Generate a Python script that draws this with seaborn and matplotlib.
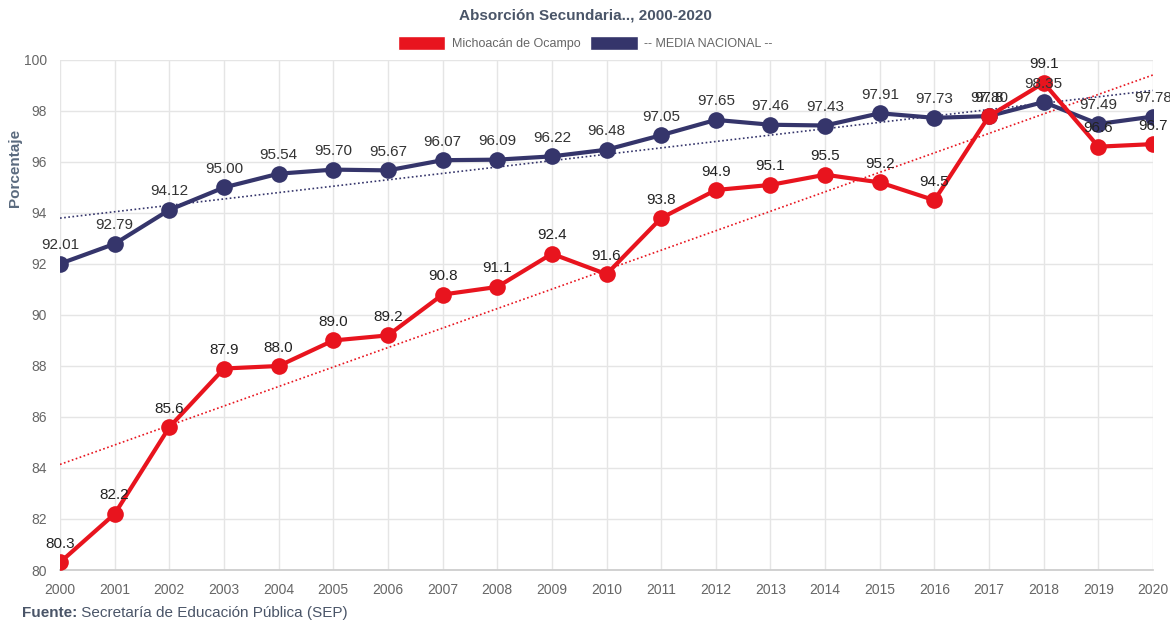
import numpy as np
import pandas as pd
import seaborn as sns
import matplotlib.pyplot as plt
from matplotlib.patches import Patch

# Datos
anios = list(range(2000, 2021))
michoacan = [80.3, 82.2, 85.6, 87.9, 88.0, 89.0, 89.2, 90.8, 91.1, 92.4, 91.6,
             93.8, 94.9, 95.1, 95.5, 95.2, 94.5, 97.8, 99.1, 96.6, 96.7]
nacional = [92.01, 92.79, 94.12, 95.00, 95.54, 95.70, 95.67, 96.07, 96.09, 96.22, 96.48,
            97.05, 97.65, 97.46, 97.43, 97.91, 97.73, 97.80, 98.35, 97.49, 97.78]

rojo = "#E8141E"
azul = "#35356B"

df = pd.DataFrame({"Año": anios, "Michoacán de Ocampo": michoacan, "Nacional": nacional})

sns.set_theme(style="white")
plt.rcParams["font.family"] = ["Liberation Sans", "DejaVu Sans"]

fig = plt.figure(figsize=(11.7, 6.22), dpi=100)
ax = fig.add_axes([0.0513, 0.0836, 0.9342, 0.82])

# Líneas de tendencia
for col, color in [("Michoacán de Ocampo", rojo), ("Nacional", azul)]:
    m, b = np.polyfit(df["Año"], df[col], 1)
    ax.plot([2000, 2020], [m * 2000 + b, m * 2020 + b], linestyle=(0, (1, 1.5)),
            color=color, lw=1.2, zorder=2)

sns.lineplot(data=df, x="Año", y="Nacional", color=azul, lw=3, marker="o",
             markersize=12, markeredgewidth=0, ax=ax, zorder=3)
sns.lineplot(data=df, x="Año", y="Michoacán de Ocampo", color=rojo, lw=3, marker="o",
             markersize=12, markeredgewidth=0, ax=ax, zorder=4)

for x, y in zip(anios, nacional):
    ax.text(x, y + 0.45, f"{y:.2f}", ha="center", va="bottom", fontsize=11, color="#333333",
            zorder=5, clip_on=False)
for x, y in zip(anios, michoacan):
    ax.text(x, y + 0.45, f"{y:.1f}", ha="center", va="bottom", fontsize=11, color="#222222",
            zorder=5, clip_on=False)

ax.set_xlim(2000, 2020)
ax.set_ylim(80, 100)
ax.set_xticks(anios)
ax.set_yticks(range(80, 101, 2))
ax.tick_params(axis="both", labelsize=10, colors="#666666", length=6, color="#e5e5e5")
ax.grid(True, color="#e5e5e5", lw=1)
for s in ax.spines.values():
    s.set_visible(False)
ax.spines["bottom"].set_visible(True)
ax.spines["bottom"].set_color("#cccccc")
ax.set_xlabel("")
ax.set_ylabel("")
fig.text(15 / 1170, 1 - 168 / 622, "Porcentaje", rotation=90, ha="center", va="center",
         fontsize=11, fontweight="bold", color="#5a6a7e")

fig.text(0.5, 1 - 15 / 622, "Absorción Secundaria.., 2000-2020", ha="center", va="center",
         fontsize=11, fontweight="bold", color="#4a5568")

handles = [Patch(facecolor=rojo, label="Michoacán de Ocampo"),
           Patch(facecolor=azul, label="-- MEDIA NACIONAL --")]
fig.legend(handles=handles, loc="center", bbox_to_anchor=(0.5, 1 - 43 / 622), ncol=2, frameon=False,
           fontsize=9, handlelength=3.8, handleheight=1.45, columnspacing=0.8, handletextpad=0.5,
           labelcolor="#666666")

fuente = fig.text(22 / 1170, 1 - 613 / 622, "Fuente:", fontsize=11, fontweight="bold",
                  color="#4a5568", va="center")
ax.annotate(" Secretaría de Educación Pública (SEP)", xy=(1, 0.5), xycoords=fuente,
            va="center", ha="left", fontsize=11, color="#4a5568", annotation_clip=False)

fig.savefig("out.png", dpi=100)
